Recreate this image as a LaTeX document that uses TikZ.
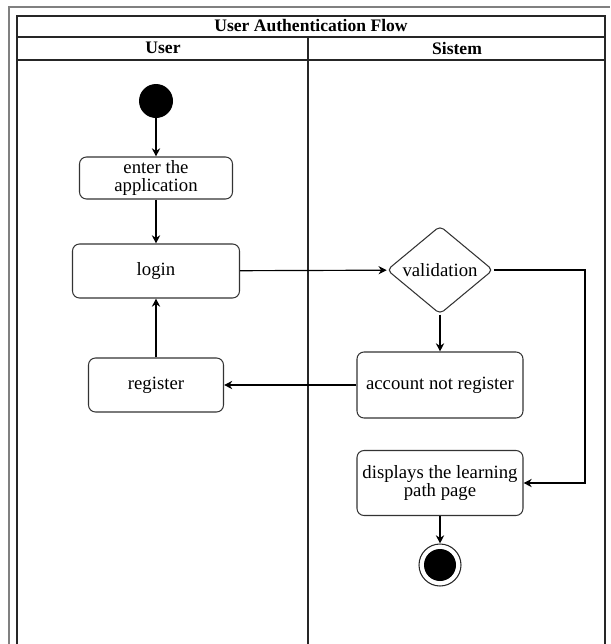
\documentclass[tikz,border=0pt]{standalone}
\usepackage{fontspec}
\setmainfont{Liberation Serif}
\usetikzlibrary{shapes.geometric,arrows.meta}

\begin{document}
\begin{tikzpicture}[x=0.03cm,y=-0.03cm,
  act/.style={draw=black!80, line width=0.9pt, rounded corners=6pt, align=center, inner sep=1pt, font=\fontsize{16}{15.5}\selectfont},
  flow/.style={draw, line width=1pt, -{Stealth[length=7pt,width=7pt]}},
  lane/.style={draw=black!85, line width=1.1pt},
  head/.style={font=\bfseries\fontsize{15}{17}\selectfont}]
\useasboundingbox (0,0) rectangle (610,644);

% swimlane frame
\path[draw,gray,line width=1.3pt] (9,644) -- (9,7) -- (610,7);
\path[lane] (17,644) -- (17,16) -- (605,16) -- (605,644);
\path[lane] (17,37) -- (605,37);
\path[lane] (17,60) -- (605,60);
\path[lane] (308,37) -- (308,644);

\node[head] (title) at (311,26) {User Authentication Flow};
\node[head] (user) at (163,48) {User};
\node[head] (sistem) at (457,48) {Sistem};

% user lane
\node[circle, fill=black, minimum size=1.02cm] (start) at (156,101) {};
\node[act, minimum width=4.59cm, minimum height=1.26cm] (enter) at (156,178) {enter the\\application};
\node[act, minimum width=5.01cm, minimum height=1.62cm] (login) at (156,271) {login};
\node[act, minimum width=4.05cm, minimum height=1.62cm] (register) at (156,385) {register};

% system lane
\node[diamond, draw=black!80, line width=0.9pt, rounded corners=4pt, inner sep=0pt,
  minimum width=3.18cm, minimum height=2.52cm, font=\fontsize{16}{18}\selectfont] (valid) at (440,270) {validation};
\node[act, minimum width=4.98cm, minimum height=1.98cm] (notreg) at (440,385) {account not register};
\node[act, minimum width=4.98cm, minimum height=1.95cm] (display) at (440,483) {displays the learning\\path page};
\node[circle, draw=black!85, line width=0.9pt, minimum size=1.26cm,
  path picture={\fill (path picture bounding box.center) circle (0.48cm);}] (end) at (440,565) {};
\coordinate (bend) at (585,270);

\path[flow] (start) -- (enter);
\path[flow] (enter) -- (login);
\path[flow] (register) -- (login);
\path[flow] (login) -- (valid);
\path[flow] (valid) -- (notreg);
\path[flow] (notreg) -- (register);
\path[flow] (valid) -- (bend) |- (display);
\path[flow] (display) -- (end);
\end{tikzpicture}
\end{document}
